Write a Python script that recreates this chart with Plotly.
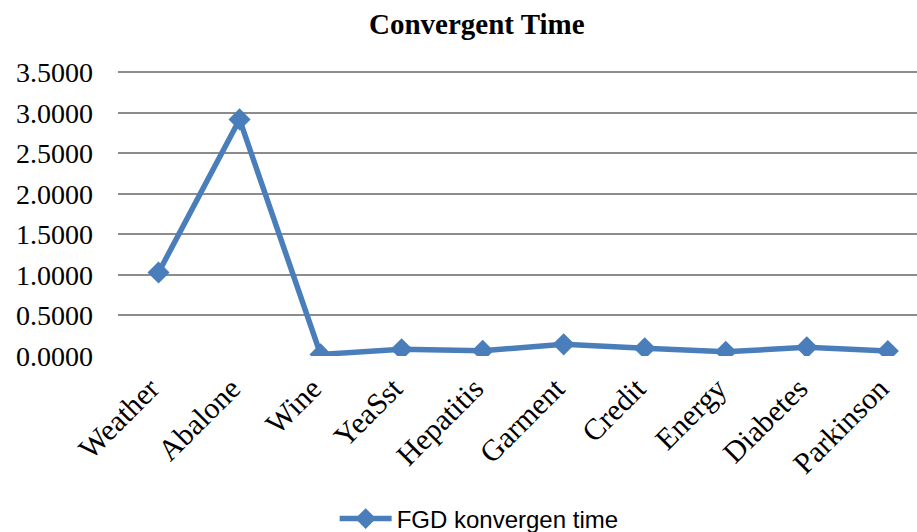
import plotly.graph_objects as go

categories = ["Weather", "Abalone", "Wine", "YeaSst", "Hepatitis", "Garment",
              "Credit", "Energy", "Diabetes", "Parkinson"]
fgd_time = [1.03, 2.92, 0.02, 0.082, 0.065, 0.144, 0.095, 0.053, 0.107, 0.062]
y_ticks = [0, 0.5, 1.0, 1.5, 2.0, 2.5, 3.0, 3.5]
series_name = "FGD konvergen time"

fig = go.Figure()
fig.add_trace(go.Scatter(
    x=categories, y=fgd_time, mode="lines+markers", name=series_name,
    line=dict(color="#4a7ebb", width=5.5),
    marker=dict(symbol="diamond", size=17, color="#4a7ebb"),
))

serif = "Liberation Serif, Times New Roman, serif"
fig.update_layout(
    width=917, height=532,
    margin=dict(l=118, r=0, t=70, b=176, autoexpand=False),
    paper_bgcolor="white", plot_bgcolor="white",
    title=dict(text="<b>Convergent Time</b>", x=0.52, xanchor="center",
               y=1 - 24 / 532, yanchor="middle", yref="container",
               font=dict(family=serif, size=29, color="black")),
    font=dict(family=serif, color="black"),
    showlegend=True,
    legend=dict(orientation="h", x=0.452, xanchor="center",
                y=1 - 519 / 532, yanchor="middle", yref="container",
                font=dict(family="Liberation Sans, Arial, sans-serif", size=24, color="black"),
                itemwidth=52),
    xaxis=dict(range=[-0.5, 9.36], showgrid=False, showline=False, zeroline=False,
               tickangle=-45, tickfont=dict(family=serif, size=30, color="black"),
               ticks="", ticklabelstandoff=8, ticklabelshift=-8, automargin=False),
    yaxis=dict(range=[0, 3.53], tickvals=y_ticks, tickformat=".4f",
               showgrid=True, gridcolor="#8c8c8c", gridwidth=1.5,
               zeroline=False, showline=False, ticks="",
               tickfont=dict(family=serif, size=28, color="black"),
               ticklabelstandoff=24, automargin=False),
)

fig.write_html("out.html", config={"displayModeBar": False},
               post_script="document.body.style.margin='0';document.body.style.overflow='hidden';")
